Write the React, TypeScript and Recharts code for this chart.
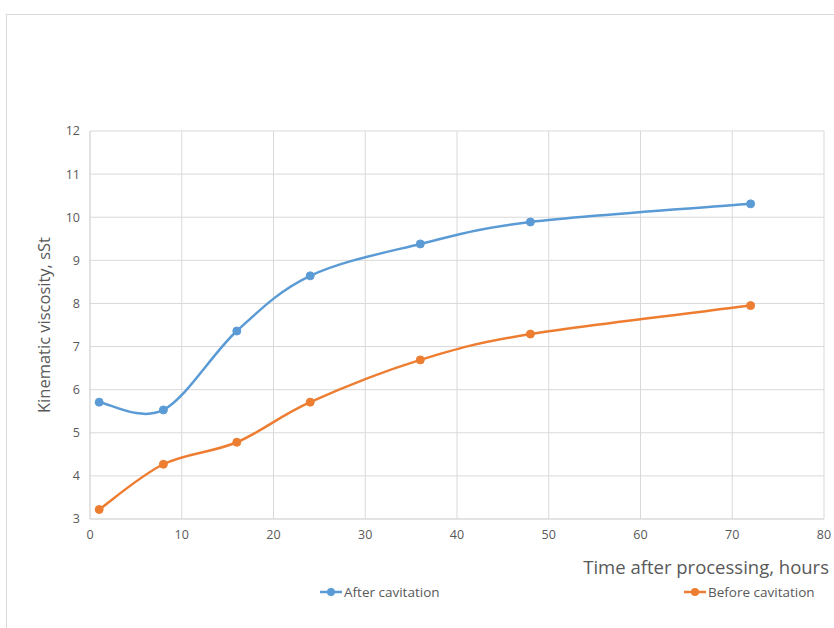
import { LineChart, Line, XAxis, YAxis, CartesianGrid } from "recharts";

const hours = [1, 8, 16, 24, 36, 48, 72];
const afterCavitation = [5.71, 5.53, 7.36, 8.64, 9.38, 9.89, 10.31];
const beforeCavitation = [3.22, 4.27, 4.78, 5.71, 6.69, 7.29, 7.95];
const xTicks = [0, 10, 20, 30, 40, 50, 60, 70, 80];
const yTicks = [3, 4, 5, 6, 7, 8, 9, 10, 11, 12];

const data = hours.map((h, i) => ({
  hours: h,
  after: afterCavitation[i],
  before: beforeCavitation[i],
}));

const FONT = "'Open Sans', sans-serif";
const TEXT = "#595959";

// smooth line like the spreadsheet one (catmull-rom style bezier)
const smoothCurve = (context: any) => {
  let pts: number[][] = [];
  return {
    areaStart() {},
    areaEnd() {},
    lineStart() {
      pts = [];
    },
    point(x: number, y: number) {
      pts.push([+x, +y]);
    },
    lineEnd() {
      if (!pts.length) return;
      context.moveTo(pts[0][0], pts[0][1]);
      for (let i = 0; i < pts.length - 1; i++) {
        const p0 = pts[i - 1] || pts[i];
        const p1 = pts[i];
        const p2 = pts[i + 1];
        const p3 = pts[i + 2] || p2;
        context.bezierCurveTo(
          p1[0] + (p2[0] - p0[0]) / 6,
          p1[1] + (p2[1] - p0[1]) / 6,
          p2[0] - (p3[0] - p1[0]) / 6,
          p2[1] - (p3[1] - p1[1]) / 6,
          p2[0],
          p2[1]
        );
      }
    },
  };
};

const legendItems = [
  { label: "After cavitation", color: "#5B9BD5", left: 320 },
  { label: "Before cavitation", color: "#ED7D31", left: 684 },
];

export default function App() {
  return (
    <div style={{ position: "relative", width: 834, height: 628, overflow: "hidden", background: "#fff" }}>
      <style>{`body{margin:0}`}</style>
      <div
        style={{
          position: "absolute",
          left: 6,
          top: 14,
          width: 900,
          height: 700,
          border: "1px solid #d9d9d9",
        }}
      />
      <LineChart
        width={834}
        height={628}
        data={data}
        margin={{ top: 131, right: 10, bottom: 79, left: 40 }}
        style={{ position: "absolute", left: 0, top: 0 }}
      >
        <CartesianGrid stroke="#d9d9d9" strokeWidth={1} />
        <XAxis
          dataKey="hours"
          type="number"
          domain={[0, 80]}
          ticks={xTicks}
          stroke="#d9d9d9"
          tickLine={false}
          tickSize={0}
          tickMargin={11}
          tick={{ fill: TEXT, fontSize: 12.5, fontFamily: FONT }}
          height={30}
          label={(props: any) => {
            const vb = props.viewBox;
            return (
              <text
                x={vb.x + vb.width + 5}
                y={vb.y + 55}
                textAnchor="end"
                fill={TEXT}
                fontSize={18.5}
                fontFamily={FONT}
              >
                Time after processing, hours
              </text>
            );
          }}
        />
        <YAxis
          type="number"
          domain={[3, 12]}
          ticks={yTicks}
          width={50}
          stroke="#d9d9d9"
          tickLine={false}
          tickSize={0}
          tickMargin={10}
          tick={{ fill: TEXT, fontSize: 12.5, fontFamily: FONT }}
          label={(props: any) => {
            const vb = props.viewBox;
            const cy = vb.y + vb.height / 2;
            return (
              <text
                x={50}
                y={cy}
                transform={`rotate(-90 50 ${cy})`}
                textAnchor="middle"
                fill={TEXT}
                fontSize={16.5}
                fontFamily={FONT}
              >
                Kinematic viscosity, sSt
              </text>
            );
          }}
        />
        <Line
          dataKey="after"
          name="After cavitation"
          type={smoothCurve as any}
          stroke="#5B9BD5"
          strokeWidth={2.5}
          dot={{ r: 4, fill: "#5B9BD5", stroke: "#5B9BD5", strokeWidth: 1 }}
          activeDot={false}
          isAnimationActive={false}
        />
        <Line
          dataKey="before"
          name="Before cavitation"
          type={smoothCurve as any}
          stroke="#ED7D31"
          strokeWidth={2.5}
          dot={{ r: 4, fill: "#ED7D31", stroke: "#ED7D31", strokeWidth: 1 }}
          activeDot={false}
          isAnimationActive={false}
        />
      </LineChart>
      {legendItems.map((it) => (
        <div
          key={it.label}
          style={{
            position: "absolute",
            left: it.left,
            top: 583,
            display: "flex",
            alignItems: "center",
            fontFamily: FONT,
            fontSize: 13.5,
            color: TEXT,
          }}
        >
          <svg width={22} height={12}>
            <line x1={0} y1={6} x2={22} y2={6} stroke={it.color} strokeWidth={2.5} />
            <circle cx={11} cy={6} r={4} fill={it.color} />
          </svg>
          <span style={{ marginLeft: 2 }}>{it.label}</span>
        </div>
      ))}
    </div>
  );
}
